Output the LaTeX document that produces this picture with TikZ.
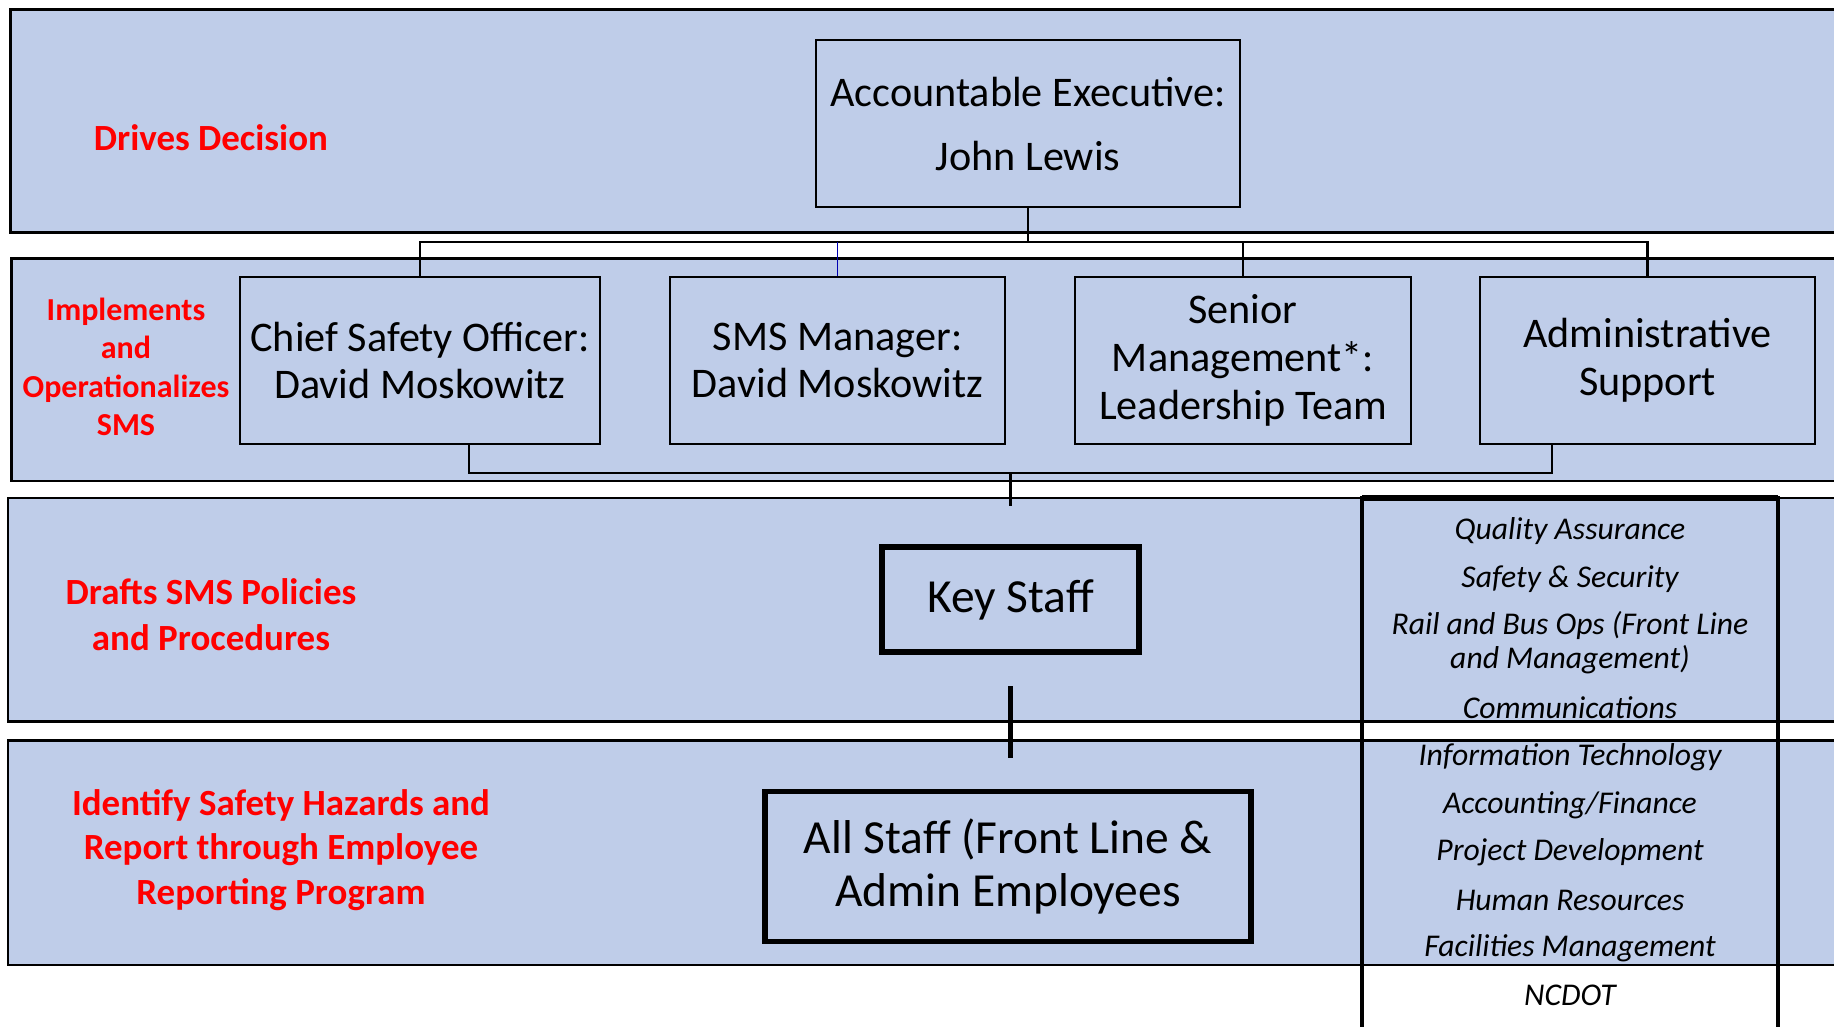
\documentclass[tikz,border=0pt]{standalone}
\usepackage{fontspec}
\setmainfont{Carlito}
\usepackage{tikz}
\usetikzlibrary{positioning}
\usepackage{xcolor}
\definecolor{bandblue}{RGB}{191,205,233}

\begin{document}
\begin{tikzpicture}[x=0.01cm, y=-0.01cm,
        band/.style={fill=bandblue, draw=black, line width=0.8pt},
        role/.style={draw=black, line width=0.7pt, align=center, inner sep=0pt, font=\fontsize{12}{13.6}\selectfont},
        staffbox/.style={draw=black, line width=1.6pt, align=center, inner sep=0pt, font=\fontsize{13.5}{15.2}\selectfont},
        tier/.style={text=red, align=center, font=\bfseries\fontsize{10.5}{12.8}\selectfont},
        dept/.style={align=center, font=\itshape\fontsize{9}{9.7}\selectfont},
        link/.style={draw=black, line width=0.7pt}]

        \useasboundingbox (0,0) rectangle (1834,1026);
        \clip (0,0) rectangle (1834,1026);
        \fill[white] (0,0) rectangle (1834,1026);

        % Tier bands
        \draw[band] (10.5,9.4) rectangle (1900,232.5);
        \draw[band] (11.7,258.5) rectangle (1900,481);
        \draw[band] (8,498) rectangle (1900,721.5);
        \draw[band] (8,740.5) rectangle (1900,965);

        % Tier labels
        \node[tier] (drives) at (211,138) {Drives Decision};
        \node[tier, font=\bfseries\fontsize{9.1}{10.9}\selectfont] (implements) at (126,367) {Implements\\and\\Operationalizes\\SMS};
        \node[tier, font=\bfseries\fontsize{10.5}{13}\selectfont] (drafts) at (211,614.5) {Drafts SMS Policies\\and Procedures};
        \node[tier, font=\bfseries\fontsize{10.5}{12.6}\selectfont] (identify) at (281,850) {Identify Safety Hazards and\\Report through Employee\\Reporting Program};

        % Executive
        \node[role, minimum width=4.24cm, minimum height=1.67cm] (ae) at (1028,123.5) {Accountable Executive:\\[4.6pt]John Lewis};

        % Management row
        \node[role, minimum width=3.6cm, minimum height=1.67cm] (cso) at (420,360.5) {Chief Safety Officer:\\David Moskowitz};
        \node[role, minimum width=3.35cm, minimum height=1.67cm] (smsmgr) at (837.5,360.5) {SMS Manager:\\David Moskowitz};
        \node[role, minimum width=3.36cm, minimum height=1.67cm] (senior) at (1243,360.5) {Senior\\Management*:\\Leadership Team};
        \node[role, minimum width=3.35cm, minimum height=1.67cm] (admin) at (1647.5,360.5) {Administrative\\Support};

        % Staff boxes
        \node[staffbox, minimum width=2.57cm, minimum height=1.05cm] (keystaff) at (1010.5,599.5) {Key Staff};
        \node[staffbox, minimum width=4.86cm, minimum height=1.5cm] (allstaff) at (1008,866.5) {All Staff (Front Line \&\\Admin Employees};

        % Connectors from the executive
        \coordinate (topbus) at (1028,242);
        \draw[link] (ae.south) -- (topbus);
        \draw[link] (cso.north) -- (cso.north |- topbus) -- (admin.north |- topbus) -- (admin.north);
        \draw[link] (senior.north) -- (senior.north |- topbus);
        \draw[blue!70!black, line width=0.4pt] (smsmgr.north) -- (smsmgr.north |- topbus);

        % Connectors down to key staff
        \coordinate (csofoot) at (469,444);
        \coordinate (adminfoot) at (1552,444);
        \coordinate (botbus) at (1010.5,473);
        \coordinate (kstop) at (1010.5,506);
        \draw[link] (csofoot) -- (csofoot |- botbus) -- (adminfoot |- botbus) -- (adminfoot);
        \draw[link] (botbus) -- (kstop);
        \coordinate (ksfoot) at (1010.5,686);
        \coordinate (astop) at (1010.5,758);
        \draw[line width=1.6pt] (ksfoot) -- (astop);

        % Department list
        \draw[line width=1pt] (1362,1040) -- (1362,498) -- (1778,498) -- (1778,1040);
        \draw[line width=1.8pt] (1362,498) -- (1778,498);
        \node[dept] (qa) at (1570,531) {Quality Assurance};
        \node[dept] (safety) at (1570,579) {Safety \& Security};
        \node[dept] (ops) at (1570,643) {Rail and Bus Ops (Front Line\\and Management)};
        \node[dept] (comms) at (1570,708) {Communications};
        \node[dept] (it) at (1570,757) {Information Technology};
        \node[dept] (finance) at (1570,805) {Accounting/Finance};
        \node[dept] (projects) at (1570,852.5) {Project Development};
        \node[dept] (hr) at (1570,900) {Human Resources};
        \node[dept] (facilities) at (1570,948) {Facilities Management};
        \node[dept] (ncdot) at (1570,995) {NCDOT};
    \end{tikzpicture}
\end{document}
